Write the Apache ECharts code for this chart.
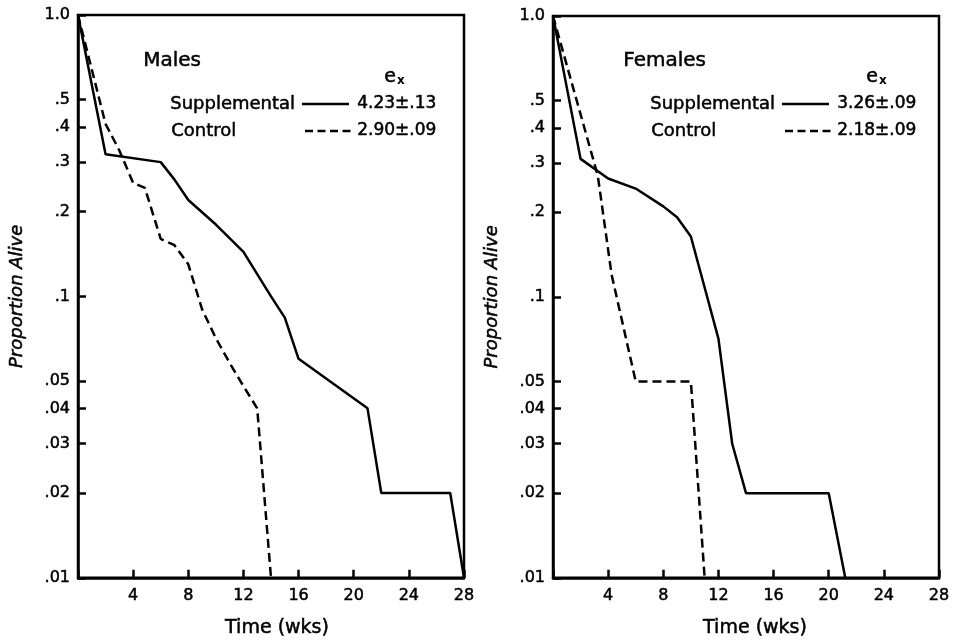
<!DOCTYPE html>
<html>
<head>
<meta charset="utf-8">
<script src="https://cdn.jsdelivr.net/npm/echarts@6/dist/echarts.min.js"></script>
<style>
html,body{margin:0;padding:0;background:#fff;}
#chart{width:959px;height:643px;}
</style>
</head>
<body>
<div id="chart"></div>
<script>
// ---- data ----
const xTicks = [0, 4, 8, 12, 16, 20, 24, 28];
const yTicks = [0.01, 0.02, 0.03, 0.04, 0.05, 0.1, 0.2, 0.3, 0.4, 0.5, 1];

const maleSuppWeeks = [0, 2, 6, 7, 8, 10, 12, 14, 15, 16, 21, 22, 27, 28];
const maleSuppProp  = [1.0, 0.32, 0.30, 0.26, 0.22, 0.18, 0.144, 0.10, 0.084, 0.06, 0.04, 0.02, 0.02, 0.01];

const maleCtrlWeeks = [0, 2, 3, 4, 4.85, 6, 7, 8, 9, 10, 11, 12, 13, 14];
const maleCtrlProp  = [1.0, 0.41, 0.33, 0.253, 0.243, 0.16, 0.152, 0.13, 0.09, 0.071, 0.058, 0.048, 0.04, 0.01];

const femSuppWeeks = [0, 2, 4, 6, 8, 9, 10, 12, 13, 14, 20, 21.2];
const femSuppProp  = [1.0, 0.31, 0.264, 0.243, 0.21, 0.192, 0.164, 0.071, 0.03, 0.02, 0.02, 0.01];

const femCtrlWeeks = [0, 3.25, 4.25, 6, 10, 11];
const femCtrlProp  = [1.0, 0.27, 0.12, 0.05, 0.05, 0.01];

const panelTitles = ['Males', 'Females'];
const legendNames = ['Supplemental', 'Control'];
const maleEx = ['4.23±.13', '2.90±.09'];
const femEx  = ['3.26±.09', '2.18±.09'];

function pairs(xs, ys) { return xs.map((x, i) => [x, ys[i]]); }

const FONT = 'DejaVu Sans';
const TB = 0.5; // slight text stroke to mimic the heavy lettering
const grids = [
  { left: 78, top: 15, width: 386, height: 564 },
  { left: 553, top: 16, width: 386, height: 565 }
];

function xAxis(i) {
  return {
    gridIndex: i, type: 'value', min: 0, max: 28, interval: 4,
    name: 'Time (wks)', nameLocation: 'middle', nameGap: 41,
    nameTextStyle: { fontFamily: FONT, fontSize: 19, color: '#000', textBorderColor: '#000', textBorderWidth: TB, padding: [0, 0, 0, i === 0 ? 12 : 18] },
    axisLine: { show: true, lineStyle: { color: '#000', width: 2.5 } },
    axisTick: { show: true, inside: true, length: 8, lineStyle: { color: '#000', width: 2.5 } },
    axisLabel: { fontFamily: FONT, fontSize: 16, color: '#000', textBorderColor: '#000', textBorderWidth: TB, margin: 10,
      formatter: v => v === 0 ? '' : String(v) },
    splitLine: { show: false }
  };
}
function yFmt(v) {
  if (Math.abs(v - 1) < 1e-9) return '1.0';
  return String(+v.toFixed(3)).replace(/^0/, '');
}
function yAxis(i) {
  return {
    gridIndex: i, type: 'log', logBase: 10, min: 0.01, max: 1,
    name: 'Proportion Alive', nameLocation: 'middle', nameGap: 52, nameRotate: 90,
    nameTextStyle: { fontFamily: FONT, fontSize: 18, fontStyle: 'italic', color: '#000', textBorderColor: '#000', textBorderWidth: TB },
    axisLine: { show: true, lineStyle: { color: '#000', width: 2.5 } },
    axisTick: { show: true, inside: true, length: 8, customValues: yTicks, lineStyle: { color: '#000', width: 2.5 } },
    axisLabel: { fontFamily: FONT, fontSize: 16, color: '#000', textBorderColor: '#000', textBorderWidth: TB, margin: 8, customValues: yTicks, formatter: yFmt },
    splitLine: { show: false },
    minorTick: { show: false }
  };
}
function line(name, data, i, dashed) {
  return {
    name, type: 'line', xAxisIndex: i, yAxisIndex: i, data,
    symbol: 'none', showSymbol: false, animation: false,
    lineStyle: { color: '#000', width: 2.5, type: dashed ? [9, 5] : 'solid' }
  };
}

function txt(left, top, text, size) {
  return { type: 'text', left, top, style: { text, fontFamily: FONT, fontSize: size, fill: '#000', stroke: '#000', lineWidth: TB } };
}

function panelText(ox, title, ex, exX, titleX) {
  return [
    txt(titleX, 51, title, 20),
    txt(exX, 67, 'e', 19),
    { type: 'text', left: exX + 13, top: 75, style: { text: 'x', fontFamily: FONT, fontSize: 12, fontWeight: 'bold', fill: '#000' } },
    txt(ox + 92, 95, legendNames[0], 18),
    txt(ox + 93, 122, legendNames[1], 18),
    { type: 'line', shape: { x1: ox + 224, y1: 104, x2: ox + 271, y2: 104 }, style: { stroke: '#000', lineWidth: 2.5 } },
    { type: 'line', shape: { x1: ox + 227, y1: 131, x2: ox + 275, y2: 131 }, style: { stroke: '#000', lineWidth: 2.5, lineDash: [8, 4.5] } },
    txt(ox + 279, 95, ex[0], 17),
    txt(ox + 279, 122, ex[1], 17)
  ];
}

const chart = echarts.init(document.getElementById('chart'), null, { renderer: 'canvas' });
chart.setOption({
  backgroundColor: '#fff',
  animation: false,
  grid: grids.map(g => Object.assign({ show: true, borderColor: '#000', borderWidth: 2.5, backgroundColor: 'transparent', containLabel: false }, g)),
  xAxis: [xAxis(0), xAxis(1)],
  yAxis: [yAxis(0), yAxis(1)],
  series: [
    line('Male Supplemental', pairs(maleSuppWeeks, maleSuppProp), 0, false),
    line('Male Control', pairs(maleCtrlWeeks, maleCtrlProp), 0, true),
    line('Female Supplemental', pairs(femSuppWeeks, femSuppProp), 1, false),
    line('Female Control', pairs(femCtrlWeeks, femCtrlProp), 1, true)
  ],
  graphic: [].concat(panelText(78, panelTitles[0], maleEx, 384, 143), panelText(558, panelTitles[1], femEx, 866, 623))
});
</script>
</body>
</html>
